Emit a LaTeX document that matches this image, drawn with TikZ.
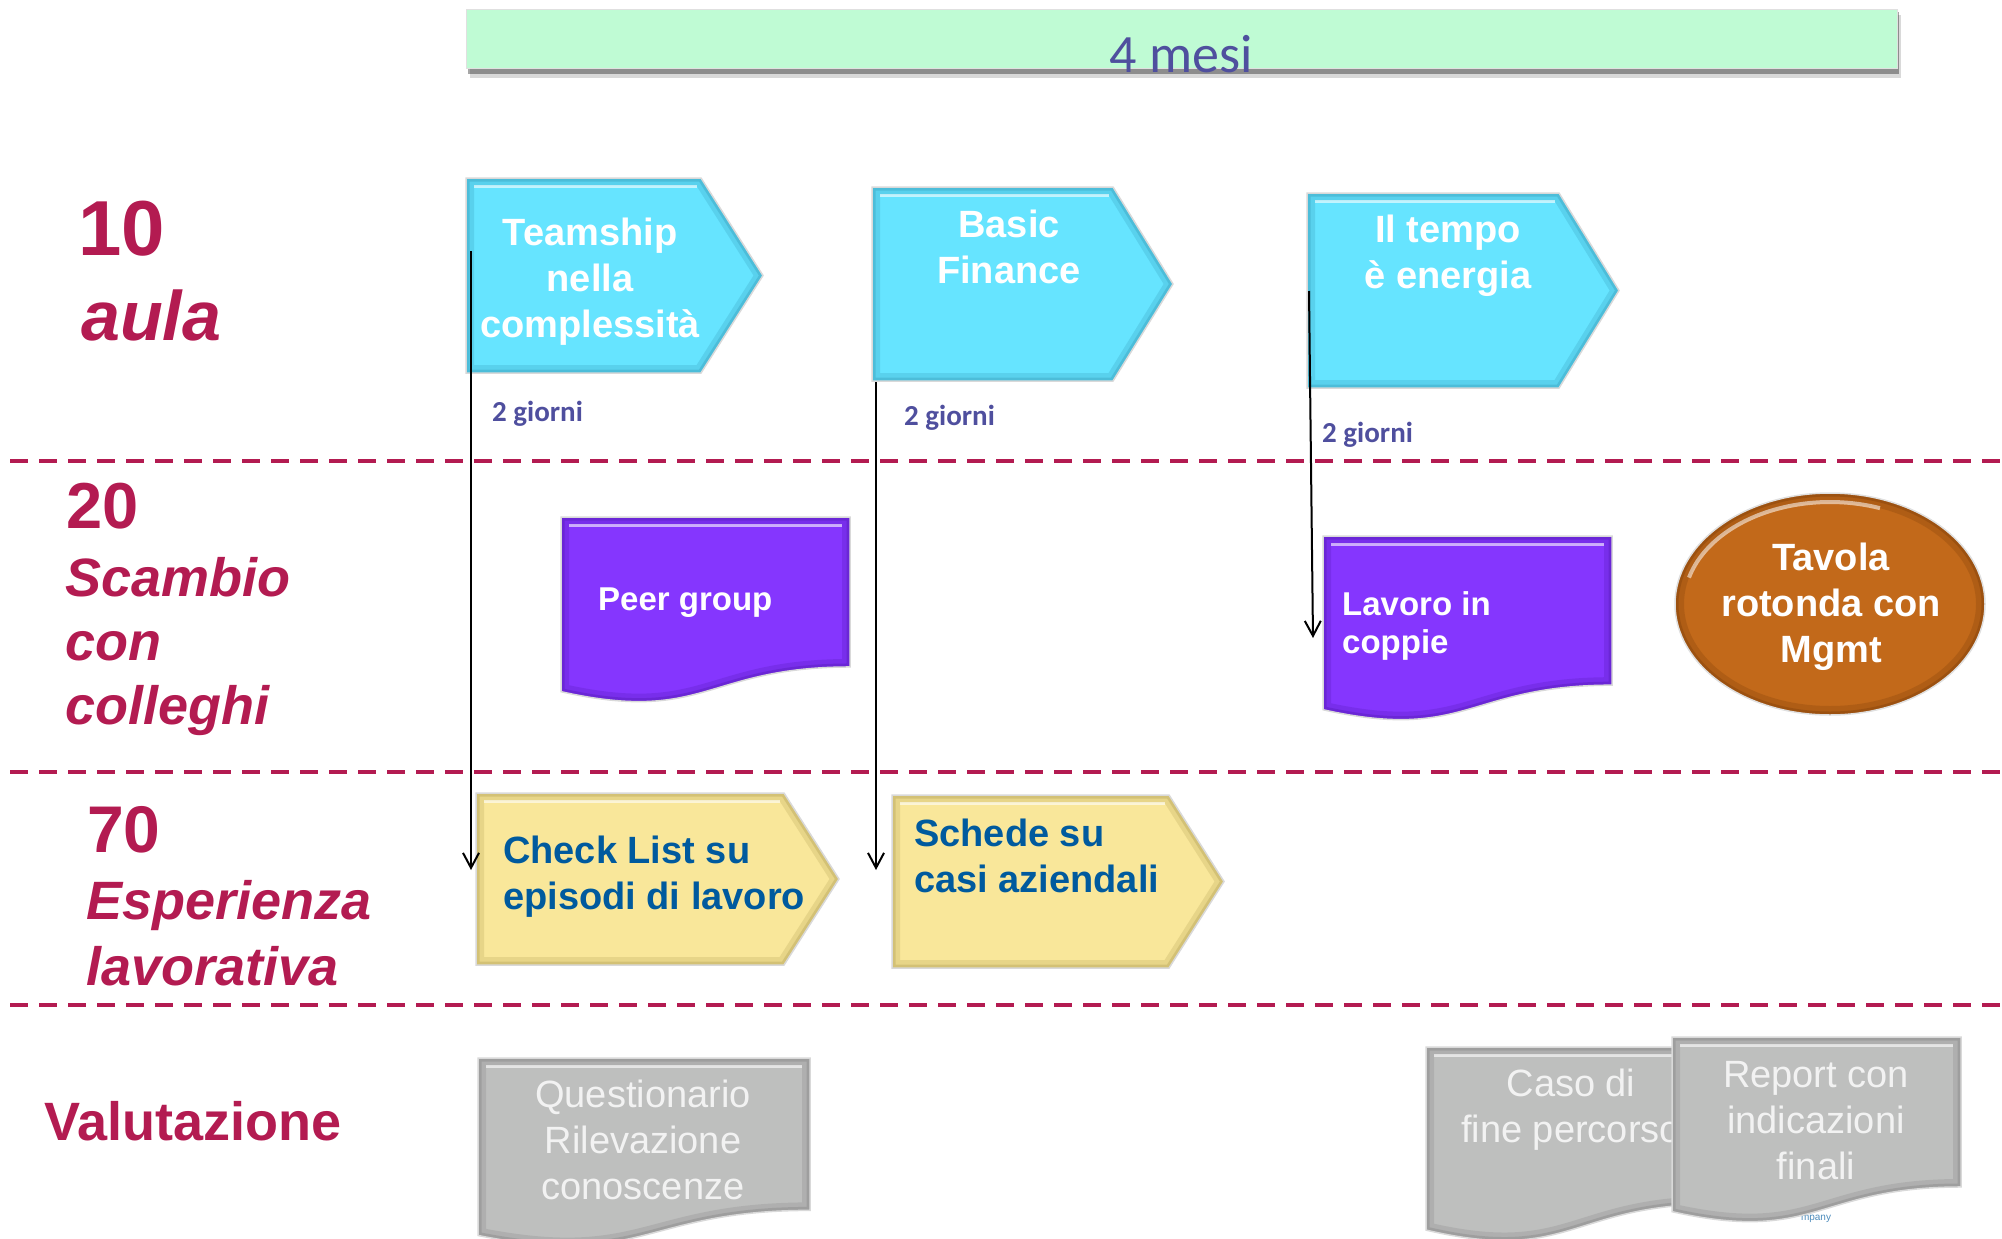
\documentclass[tikz,border=0pt]{standalone}
\usepackage{fontspec}
\setmainfont{Liberation Sans}
\newfontfamily\cali{Carlito}
\usetikzlibrary{arrows.meta}
\definecolor{crim}{HTML}{B31B51}
\definecolor{slate}{HTML}{4F4F9E}
\definecolor{mint}{HTML}{BFFBD4}
\definecolor{navy}{HTML}{005A9E}
\definecolor{cyanm}{HTML}{66E4FF}
\definecolor{cyand}{HTML}{2E8FAE}
\definecolor{purm}{HTML}{8536FE}
\definecolor{purd}{HTML}{4A15A8}
\definecolor{orm}{HTML}{C2691A}
\definecolor{ord}{HTML}{7A3C08}
\definecolor{yelm}{HTML}{F9E79A}
\definecolor{yeld}{HTML}{A8964A}
\definecolor{grym}{HTML}{BEBFBE}
\definecolor{gryd}{HTML}{7A7A7A}
\definecolor{grytxt}{HTML}{F2F2F2}
% chevron: left, top, body right, tip, bottom
\newcommand\chev[5]{(#1,#2) -- (#3,#2) -- (#4,{(#2+#5)/2}) -- (#3,#5) -- (#1,#5) -- cycle}
% document shape: left, top, right, bottom of box
\newcommand\docp[4]{(#1,#2) -- (#3,#2) -- (#3,{#2+0.802*(#4-#2)}) .. controls ({(#1+#3)/2},{#2+0.802*(#4-#2)}) and ({(#1+#3)/2},{#2+1.1075*(#4-#2)}) .. (#1,{#2+0.934*(#4-#2)}) -- cycle}
% bevelled shape: path, main, dark
\newcommand\bev[3]{%
  \fill[#2] #1;
  \begin{scope}\clip #1;
    \draw[#3, line width=16pt, opacity=.22] #1;
    \draw[#3, line width=7pt, opacity=.3] #1;
  \end{scope}
  \draw[black!15, line width=1.5pt] #1;}
\newcommand\hl[3]{\draw[white, opacity=.6, line width=3pt] (#1,#3) -- (#2,#3);}
\begin{document}
\begin{tikzpicture}[x=1pt,y=-1pt,
  lbl/.style={text=crim, inner sep=0pt, anchor=base west},
  wt/.style={text=white, inner sep=0pt, anchor=base, align=center, font=\fontsize{38}{46}\selectfont\bfseries},
  wtl/.style={text=white, inner sep=0pt, anchor=base west, align=left, font=\fontsize{33}{38}\selectfont\bfseries},
  nt/.style={text=navy, inner sep=0pt, anchor=base west, align=left, font=\fontsize{38}{46}\selectfont\bfseries},
  gt/.style={text=grytxt, inner sep=0pt, anchor=base, align=center, font=\fontsize{38}{46}\selectfont},
  gio/.style={text=slate, inner sep=0pt, anchor=base west, font=\cali\fontsize{29}{34}\selectfont\bfseries},
  sep/.style={crim, line width=4pt, dash pattern=on 18pt off 11pt},
  conn/.style={line width=2pt, -{Straight Barb[length=15pt,width=16pt]}}]
\useasboundingbox (0,0) rectangle (2002,1239);
% green bar
\fill[black, opacity=.15] (470,15) rectangle (1901,78);
\fill[black, opacity=.35] (468,12) rectangle (1899,74);
\fill[mint] (466,10) rectangle (1897,69);
\draw[black!12, line width=1pt] (466,10) rectangle (1897,69);
\node[font=\cali\fontsize{54}{60}\selectfont, text=slate, anchor=base, inner sep=0pt] (mesi) at (1181,72) {4 mesi};
% separators
\draw[sep] (10,461) -- (2000,461);
\draw[sep] (10,772) -- (2000,772);
\draw[sep] (10,1005) -- (2000,1005);
% left labels (base anchor = last line)
\node[lbl, font=\fontsize{78}{90}\selectfont\bfseries] (n10) at (78,255) {10};
\node[lbl, font=\fontsize{70}{80}\selectfont\bfseries\itshape] (naula) at (81,340) {aula};
\node[lbl, font=\fontsize{65}{75}\selectfont\bfseries] (n20) at (66,528) {20};
\node[lbl, align=left, font=\fontsize{54}{64}\selectfont\bfseries\itshape] (nscambio) at (65,724) {Scambio\\con\\colleghi};
\node[lbl, font=\fontsize{66}{76}\selectfont\bfseries] (n70) at (87,852) {70};
\node[lbl, align=left, font=\fontsize{54}{66}\selectfont\bfseries\itshape] (nesp) at (86,985) {Esperienza\\lavorativa};
\node[lbl, font=\fontsize{54}{64}\selectfont\bfseries] (nval) at (44,1140) {Valutazione};
% cyan chevrons
\bev{\chev{466}{178}{701}{763}{373}}{cyanm}{cyand}
\hl{474}{697}{186}
\bev{\chev{872}{187}{1113}{1173}{381}}{cyanm}{cyand}
\hl{880}{1109}{195}
\bev{\chev{1307}{193}{1559}{1619}{388}}{cyanm}{cyand}
\hl{1315}{1555}{201}
\node[wt] (tteam) at (590,337) {Teamship\\nella\\complessità};
\node[wt] (tbasic) at (1009,283) {Basic\\Finance};
\node[wt] (ttempo) at (1448,288) {Il tempo\\è energia};
% 2 giorni
\node[gio] (g1) at (492,421) {2 giorni};
\node[gio] (g2) at (904,425) {2 giorni};
\node[gio] (g3) at (1322,442) {2 giorni};
% purple documents
\bev{\docp{561}{517}{850}{704}}{purm}{purd}
\hl{569}{842}{525}
\bev{\docp{1323}{536}{1612}{722}}{purm}{purd}
\hl{1331}{1604}{544}
\node[wtl] (tpeer) at (598,610) {Peer group};
\node[wtl] (tlav) at (1342,653) {Lavoro in\\coppie};
% orange ellipse
\fill[orm] (1830,604) ellipse [x radius=155, y radius=111];
\begin{scope}
  \clip (1830,604) ellipse [x radius=155, y radius=111];
  \draw[ord, line width=18pt, opacity=.25] (1830,604) ellipse [x radius=155, y radius=111];
  \draw[ord, line width=7pt, opacity=.35] (1830,604) ellipse [x radius=155, y radius=111];
  \draw[white, line width=4pt, opacity=.55] (1830,604) ++(195:146 and 102) arc[start angle=195, end angle=290, x radius=146, y radius=102];
\end{scope}
\draw[black!12, line width=1.5pt] (1830,604) ellipse [x radius=155, y radius=111];
\node[wt] (ttavola) at (1831,662) {Tavola\\rotonda con\\Mgmt};
% yellow chevrons
\bev{\chev{476}{793}{784}{839}{965}}{yelm}{yeld}
\hl{484}{780}{801}
\bev{\chev{892}{795}{1169}{1224}{968}}{yelm}{yeld}
\hl{900}{1165}{803}
\node[nt] (tcheck) at (503,909) {Check List su\\episodi di lavoro};
\node[nt] (tschede) at (914,892) {Schede su\\casi aziendali};
% grey documents
\bev{\docp{478}{1058}{810}{1248}}{grym}{gryd}
\hl{486}{802}{1066}
\node[gt] (tquest) at (643,1199) {Questionario\\Rilevazione\\conoscenze};
\bev{\docp{1426}{1047}{1716}{1243}}{grym}{gryd}
\hl{1434}{1708}{1055}
\node[gt] (tcaso) at (1571,1142) {Caso di\\fine percorso};
\node[text=navy!70, inner sep=0pt, anchor=base, font=\fontsize{10}{12}\selectfont] (tmp) at (1816,1220) {mpany};
\bev{\docp{1672}{1037}{1961}{1224}}{grym}{gryd}
\hl{1680}{1953}{1045}
\node[gt] (trep) at (1816,1179) {Report con\\indicazioni\\finali};
% connectors
\coordinate (a1s) at (471,251);
\coordinate (a1e) at (471,870);
\coordinate (a2s) at (876,382);
\coordinate (a2e) at (876,870);
\coordinate (a3s) at (1309,291);
\coordinate (a3e) at (1313,638);
\draw[conn] (a1s) -- (a1e);
\draw[conn] (a2s) -- (a2e);
\draw[conn] (a3s) -- (a3e);
\end{tikzpicture}
\end{document}
